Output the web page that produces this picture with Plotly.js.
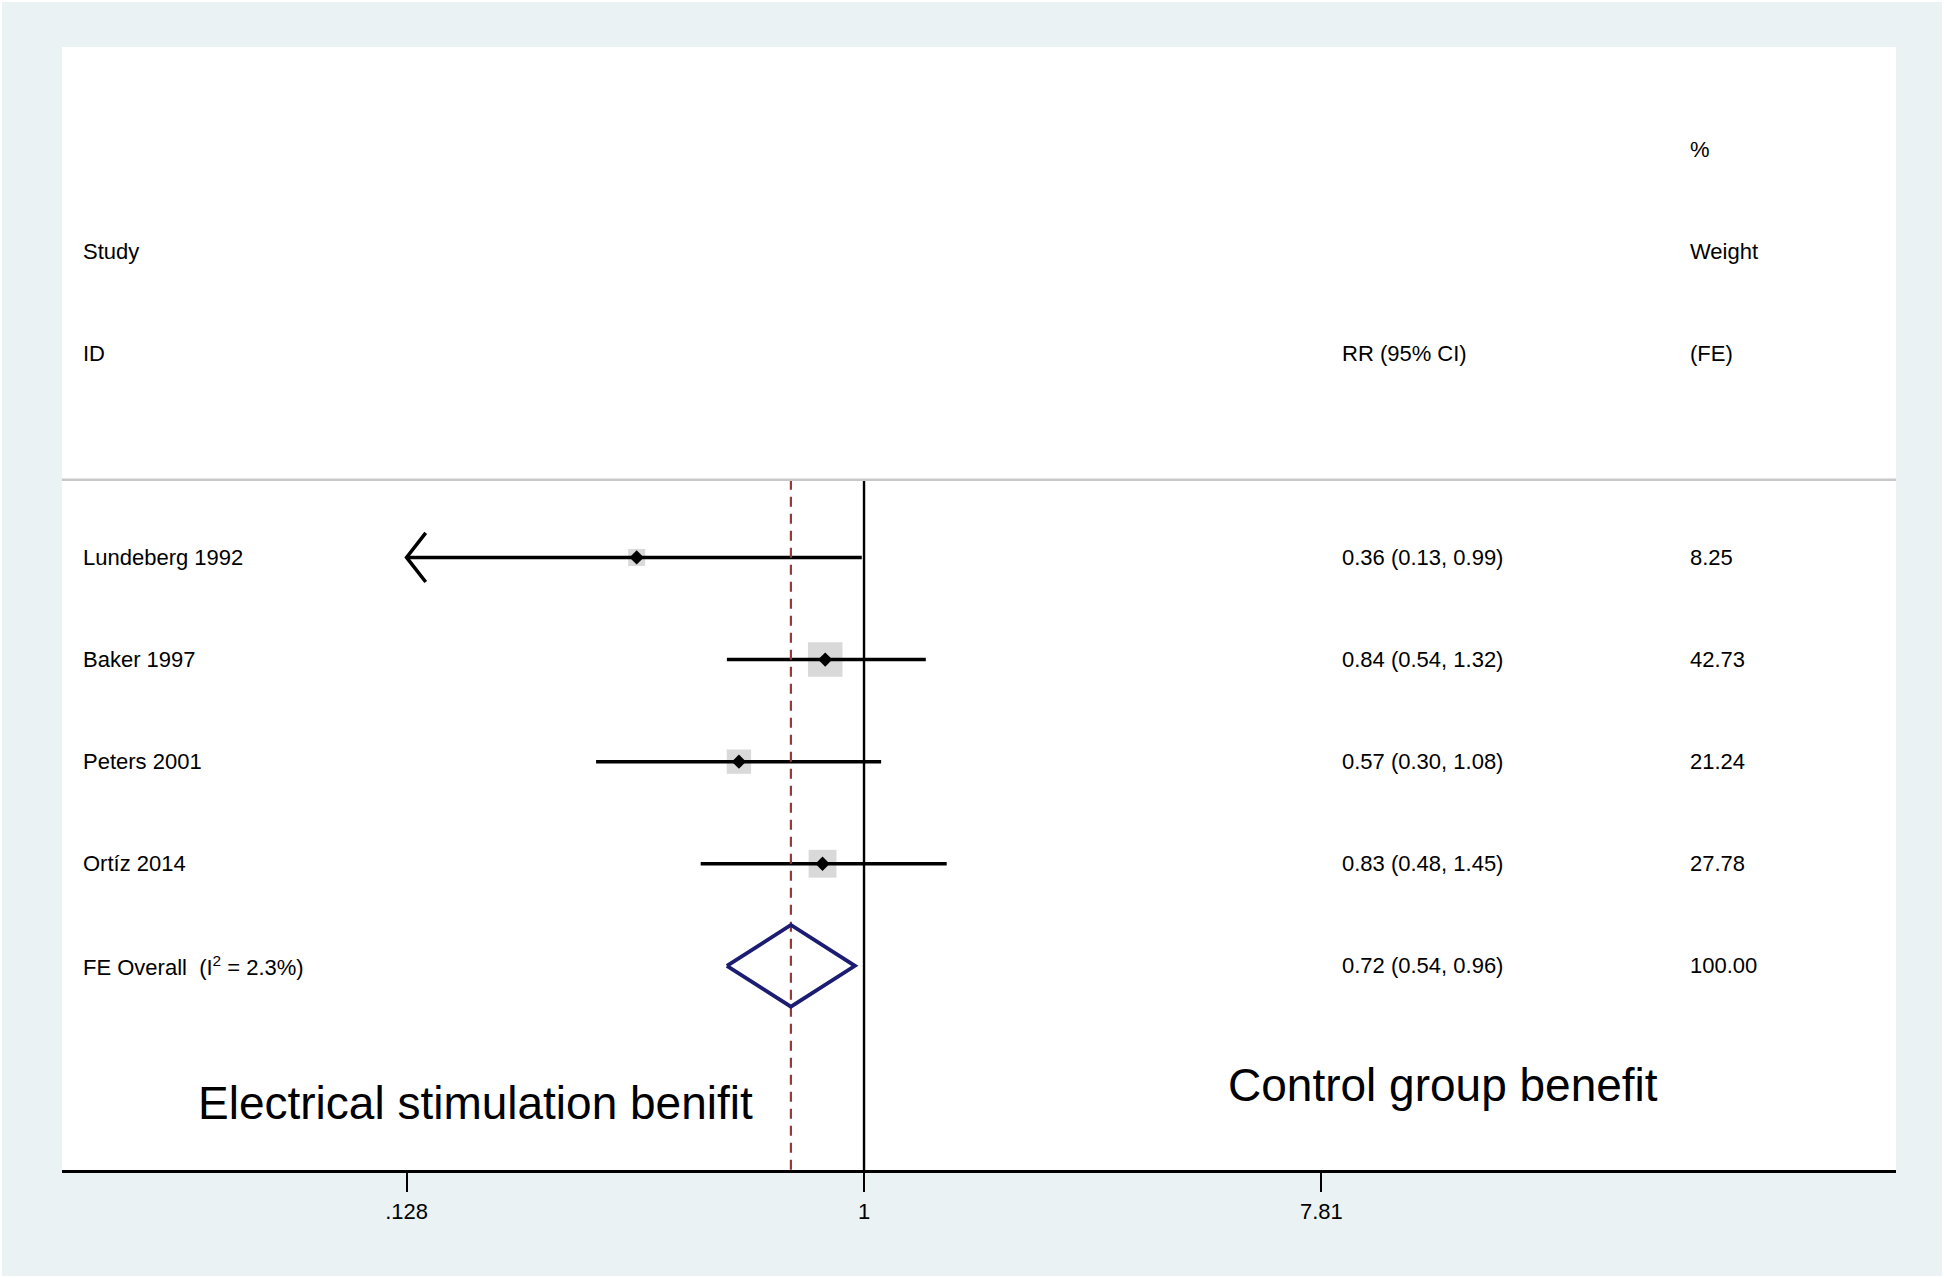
<!DOCTYPE html>
<html><head><meta charset="utf-8">
<script src="https://cdn.plot.ly/plotly-3.0.1.min.js"></script>
<style>html,body{margin:0;padding:0;background:#eaf2f3;} #chart{width:1944px;height:1278px;}</style>
</head><body><div id="chart"></div>
<script>
// ---------- data ----------
const studies = ['Lundeberg 1992', 'Baker 1997', 'Peters 2001', 'Ortíz 2014'];
const rr = [0.36, 0.84, 0.57, 0.83];
const ciLow = [0.13, 0.54, 0.30, 0.48];
const ciHigh = [0.99, 1.32, 1.08, 1.45];
const weights = [8.25, 42.73, 21.24, 27.78];
const lowClipped = [true, false, false, false];
const overallLabel = 'FE Overall&nbsp; (I<sup>2</sup> = 2.3%)';
const overallRR = 0.72, overallLow = 0.54, overallHigh = 0.96, overallWeight = 100.00;
const tickVals = [0.128, 1, 7.81];
const tickText = ['.128', '1', '7.81'];
const headerStudy = ['Study', 'ID'];
const headerRR = 'RR (95% CI)';
const headerWeight = ['%', 'Weight', '(FE)'];
const leftNote = 'Electrical stimulation benifit';
const rightNote = 'Control group benefit';

// ---------- layout helpers ----------
const FONT = '"Liberation Sans", Arial, Helvetica, sans-serif';
const n = studies.length;
const rowY = studies.map((s, i) => n + 1 - i);   // 5,4,3,2
const overallY = 1;
const sepY = 5.76;
const yBottom = -1;
const xMin = tickVals[0];
const fmt = v => v.toFixed(2);

// boxes
const maxW = Math.max(...weights);
const boxSizes = weights.map(w => Math.max(17, 34.5 * Math.sqrt(w / maxW)));

// CI lines
const ciX = [], ciY = [];
studies.forEach((s, i) => {
  ciX.push(lowClipped[i] ? xMin : ciLow[i], ciHigh[i], null);
  ciY.push(rowY[i], rowY[i], null);
});
// arrows for clipped lower bounds
const arX = [], arY = [];
studies.forEach((s, i) => {
  if (lowClipped[i]) {
    arX.push(xMin * 1.09, xMin, xMin * 1.09, null);
    arY.push(rowY[i] + 0.24, rowY[i], rowY[i] - 0.24, null);
  }
});

const traces = [
  { type: 'scatter', mode: 'markers', x: rr, y: rowY, hoverinfo: 'skip',
    marker: { symbol: 'square', color: '#c9c9c9', size: boxSizes, line: { width: 0 } } },
  { type: 'scatter', mode: 'lines', x: ciX, y: ciY, hoverinfo: 'skip',
    line: { color: '#000', width: 3.5 } },
  { type: 'scatter', mode: 'lines', x: arX, y: arY, hoverinfo: 'skip',
    line: { color: '#000', width: 3.5 } },
  { type: 'scatter', mode: 'lines', x: [overallRR, overallRR], y: [sepY, yBottom], hoverinfo: 'skip',
    line: { color: '#963a3c', width: 2.2, dash: '10px,7px' } },
  { type: 'scatter', mode: 'lines', x: [1, 1], y: [sepY, yBottom], hoverinfo: 'skip',
    line: { color: '#000', width: 2.4 } },
  { type: 'scatter', mode: 'lines', hoverinfo: 'skip',
    x: [overallLow, overallRR, overallHigh, overallRR, overallLow],
    y: [overallY, overallY + 0.4, overallY, overallY - 0.4, overallY],
    line: { color: '#1c1c72', width: 3.8 } },
  { type: 'scatter', mode: 'markers', x: rr, y: rowY, hoverinfo: 'skip',
    marker: { symbol: 'diamond', color: '#000', size: 11 } }
];

// ---------- text ----------
const txtFont = { family: FONT, size: 22, color: '#000' };
const colStudy = 0.0101, colRR = 0.6971, colW = 0.8868;
const ann = [];
function addText(x, y, text, font) {
  ann.push({ xref: 'paper', yref: 'y', x: x, y: y, text: text, showarrow: false,
    xanchor: 'left', yanchor: 'middle', font: font || txtFont });
}
addText(colStudy, 8, headerStudy[0]);
addText(colStudy, 7, headerStudy[1]);
addText(colRR, 7, headerRR);
addText(colW, 9, headerWeight[0]);
addText(colW, 8, headerWeight[1]);
addText(colW, 7, headerWeight[2]);
studies.forEach((s, i) => {
  addText(colStudy, rowY[i], s);
  addText(colRR, rowY[i], `${fmt(rr[i])} (${fmt(ciLow[i])}, ${fmt(ciHigh[i])})`);
  addText(colW, rowY[i], fmt(weights[i]));
});
addText(colStudy, overallY, overallLabel);
addText(colRR, overallY, `${fmt(overallRR)} (${fmt(overallLow)}, ${fmt(overallHigh)})`);
addText(colW, overallY, fmt(overallWeight));
const bigFont = { family: FONT, size: 46, color: '#000' };
addText(0.0728, -0.34, leftNote, bigFont);
addText(0.6349, -0.165, rightNote, bigFont);

const layout = {
  width: 1944, height: 1278,
  margin: { l: 62, r: 48, t: 47, b: 108, pad: 0 },
  paper_bgcolor: '#eaf2f3', plot_bgcolor: '#ffffff',
  showlegend: false, hovermode: false,
  xaxis: {
    type: 'log', range: [-1.5652, 2.014], tickmode: 'array', tickvals: tickVals, ticktext: tickText,
    ticks: 'outside', ticklen: 19, tickwidth: 2, tickcolor: '#000',
    showline: true, linecolor: '#000', linewidth: 3, showgrid: false, zeroline: false,
    tickfont: { family: FONT, size: 22, color: '#000' }, ticklabelstandoff: 1, fixedrange: true
  },
  yaxis: { range: [yBottom, 10], visible: false, showgrid: false, zeroline: false, fixedrange: true },
  shapes: [
    { type: 'line', xref: 'paper', yref: 'y', x0: 0, x1: 1, y0: sepY, y1: sepY,
      line: { color: '#c8c8c8', width: 2.5 } },
    { type: 'rect', xref: 'paper', yref: 'paper', x0: -62 / 1834, x1: 1 + 48 / 1834,
      y0: -108 / 1123, y1: 1 + 47 / 1123, line: { color: '#ffffff', width: 4 }, layer: 'above' }
  ],
  annotations: ann
};

Plotly.newPlot('chart', traces, layout, { displayModeBar: false, staticPlot: true });
</script>
</body></html>
